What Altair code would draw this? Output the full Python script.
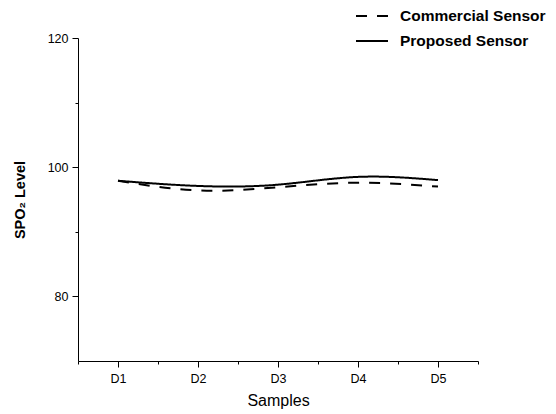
import altair as alt
import pandas as pd

samples = ["D1", "D2", "D3", "D4", "D5"]
sample_pos = [1, 2, 3, 4, 5]
commercial = [97.9, 96.4, 96.9, 97.6, 97.0]
proposed = [97.9, 97.1, 97.3, 98.5, 98.0]
series_names = ["Commercial Sensor", "Proposed Sensor"]

rows = []
for name, vals in zip(series_names, [commercial, proposed]):
    for p, s, v in zip(sample_pos, samples, vals):
        rows.append({"pos": p, "sample": s, "value": v, "series": name})
df = pd.DataFrame(rows)

FONT = "Liberation Sans, Arial, sans-serif"
label_list = "[" + ",".join("'%s'" % s for s in samples) + "]"

chart = alt.Chart(df).mark_line(
    interpolate="natural", strokeWidth=2, color="black"
).encode(
    x=alt.X("pos:Q",
            scale=alt.Scale(domain=[0.5, 5.5], nice=False, zero=False),
            axis=alt.Axis(
                title="Samples",
                values=[0.5, 1, 1.5, 2, 2.5, 3, 3.5, 4, 4.5, 5, 5.5],
                labelExpr="datum.value % 1 == 0 ? " + label_list + "[datum.value - 1] : ''",
                tickSize={"condition": {"test": "datum.value % 1 == 0", "value": 6}, "value": 3},
                grid=False, domainColor="black", tickColor="black",
                labelFont=FONT, labelFontSize=12.5, labelColor="black",
                labelPadding=5, labelFlush=False, labelOverlap=False,
                titleFont=FONT, titleFontSize=16, titleFontWeight="normal",
                titleColor="black", titlePadding=8,
            )),
    y=alt.Y("value:Q",
            scale=alt.Scale(domain=[70, 120], nice=False, zero=False),
            axis=alt.Axis(
                title="SPO₂ Level",
                values=[80, 90, 100, 110, 120],
                labelExpr="datum.value % 20 == 0 ? datum.label : ''",
                tickSize={"condition": {"test": "datum.value % 20 == 0", "value": 6}, "value": 3},
                grid=False, domainColor="black", tickColor="black",
                labelFont=FONT, labelFontSize=12.5, labelColor="black",
                labelPadding=4, labelFlush=False, labelOverlap=False,
                titleFont=FONT, titleFontSize=14.5, titleFontWeight="bold",
                titleColor="black", titlePadding=20,
            )),
    strokeDash=alt.StrokeDash(
        "series:N",
        scale=alt.Scale(domain=series_names, range=[[11, 10], [1, 0]]),
        legend=alt.Legend(
            title=None, orient="none", legendX=285, legendY=-31,
            symbolType="M-2,0H2", symbolSize=256, symbolStrokeWidth=2,
            symbolStrokeColor="black", symbolFillColor="transparent",
            labelFont=FONT, labelFontSize=15.5, labelFontWeight="bold",
            labelColor="black", labelOffset=19, rowPadding=7, padding=0,
        ),
    ),
).properties(
    width=400, height=323,
    autosize=alt.AutoSizeParams(type="none"),
    padding={"left": 70, "top": 30, "right": 70, "bottom": 52},
).configure_view(stroke=None)

chart.save("out.html", embed_options={"renderer": "svg", "actions": False})
